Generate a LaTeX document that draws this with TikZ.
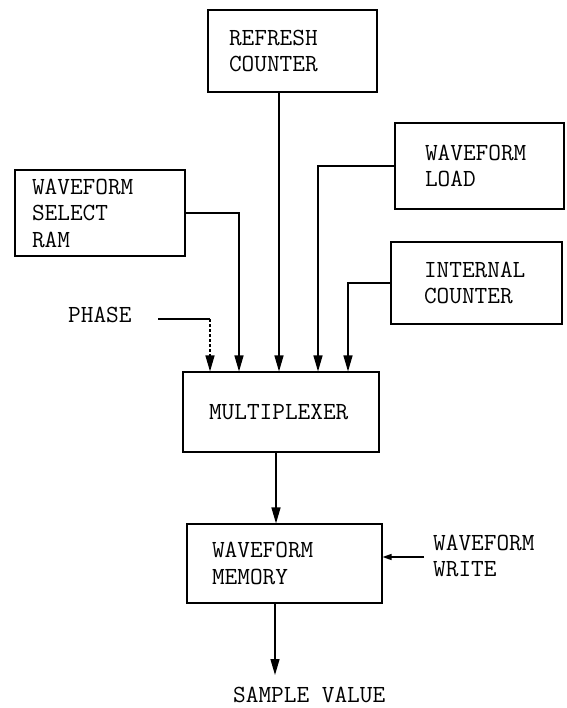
\documentclass[tikz,border=0pt]{standalone}
\usepackage{fontspec}
\usetikzlibrary{arrows.meta}
\begin{document}
\begin{tikzpicture}[x=1pt,y=-1pt,
  font=\ttfamily\fontsize{24.6}{26.5}\selectfont,
  box/.style={draw, line width=1.1pt, inner ysep=0pt, align=left, anchor=center},
  conn/.style={line width=1.3pt},
  arr/.style={conn, -{Triangle[length=16pt,width=9pt]}},
  lbl/.style={inner sep=0pt, align=left}]
\useasboundingbox (0,0) rectangle (566,708);
% boxes
\node[box, minimum width=169pt, minimum height=82pt, text width=127pt, inner xsep=21pt] (refresh) at (292.5,51) {REFRESH\\COUNTER};
\node[box, minimum width=170pt, minimum height=86pt, text width=136pt, inner xsep=17pt] (select) at (100,213) {WAVEFORM\\SELECT\\RAM};
\node[box, minimum width=169pt, minimum height=86pt, text width=109pt, inner xsep=30pt] (load) at (479.5,166) {WAVEFORM\\LOAD};
\node[box, minimum width=171pt, minimum height=82pt, text width=105pt, inner xsep=33pt] (internal) at (476.5,283) {INTERNAL\\COUNTER};
\node[box, minimum width=196pt, minimum height=80pt, text width=144pt, inner xsep=26pt] (mux) at (281,412) {MULTIPLEXER};
\node[box, minimum width=195pt, minimum height=79pt, text width=145pt, inner xsep=25pt] (mem) at (284.5,563.5) {WAVEFORM\\MEMORY};
% free labels
\node[lbl, anchor=base west] (phase) at (68,322) {PHASE};
\node[lbl, anchor=west] (write) at (433,556) {WAVEFORM\\WRITE};
\node[lbl, anchor=base west] (sample) at (233,702) {SAMPLE VALUE};
% helper coordinates
\coordinate (xp) at (210,0);
\coordinate (xs) at (239,0);
\coordinate (xr) at (279,0);
\coordinate (xl) at (318,0);
\coordinate (xi) at (348,0);
\coordinate (xm) at (276,0);
\coordinate (xo) at (275,0);
\coordinate (phs) at (158,319);
\coordinate (wrs) at (424,557);
\coordinate (sam) at (275,675);
% connectors
\draw[conn] (phs) -- (phs -| xp);
\draw[arr, densely dashed] (phs -| xp) -- (mux.north -| xp);
\draw[arr] (select.east) -| (mux.north -| xs);
\draw[arr] (refresh.south -| xr) -- (mux.north -| xr);
\draw[arr] (load.west) -| (mux.north -| xl);
\draw[arr] (internal.west) -| (mux.north -| xi);
\draw[arr] (mux.south -| xm) -- (mem.north -| xm);
\draw[conn, -{Triangle[length=9pt,width=6pt]}] (wrs) -- (wrs -| mem.east);
\draw[arr] (mem.south -| xo) -- (sam);
\end{tikzpicture}
\end{document}
